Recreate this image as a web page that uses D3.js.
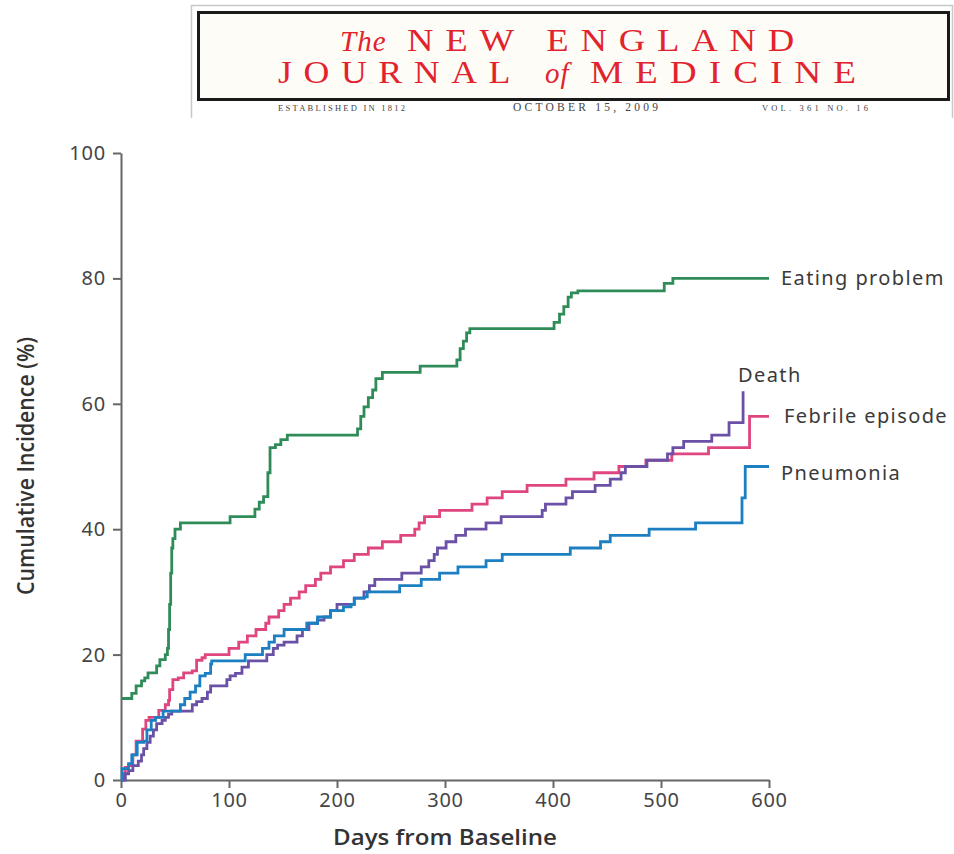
<!DOCTYPE html>
<meta charset="utf-8">
<style type="text/css">
body {
  margin: 0;
  background: #fff;
}
.axis text {
  font-family: "Noto Sans", sans-serif;
  font-size: 20px;
  fill: #444;
  letter-spacing: 0.8px;
}
.axis path,
.axis line {
  fill: none;
  stroke: #666;
  stroke-width: 2px;
}
.curve {
  fill: none;
  stroke-width: 2.8px;
}
.label {
  font-family: "Noto Sans", sans-serif;
  font-size: 20px;
  fill: #3a3a3a;
  letter-spacing: 1.4px;
}
.title {
  font-family: "Open Sans", sans-serif;
  font-weight: 600;
  font-size: 21px;
  fill: #333;
}
.mast {
  font-family: "Liberation Serif", serif;
  fill: #e2232e;
}
.sub {
  font-family: "Liberation Serif", serif;
  fill: #444;
}
</style>
<body>
<script src="https://cdn.jsdelivr.net/npm/d3@7"></script>
<script>
// step points: [day, cumulative incidence %]
var eating = [[0,13],[10,13.8],[14,15],[19,15.8],[22,16.3],[25,17.1],[33,18.2],[36,19.2],[41,20],[43,21],[44,24],[45,28],[46,33],[47,37],[48,38.5],[50,40],[55,41],[101,42],[124,43.2],[128,44.3],[132,45.2],[136,49],[138,53],[143,53.5],[148,54.3],[154,55],[219,56],[222,58],[225,59.5],[229,61],[233,62.2],[236,64],[242,65],[277,66],[311,67],[314,68.8],[317,70],[320,71.3],[323,72],[401,73],[406,74.3],[410,75.5],[414,77],[417,77.7],[423,78],[503,79.2],[511,80],[600,80]];

var febrile = [[0,0],[2,1],[4,2],[7,2.3],[11,4],[14,6.2],[20,8.1],[23,9.5],[26,10],[35,11.1],[41,12],[44,12.7],[45,14.4],[48,16],[53,16.3],[58,17.1],[66,17.4],[70,19.1],[75,19.5],[78,20],[100,21],[109,22],[117,23],[125,24],[134,25],[137,26],[146,27],[151,28],[157,29],[165,30],[171,31],[180,32],[185,33],[194,34],[206,35],[216,36],[229,37],[242,38],[259,39],[272,40],[276,41],[281,42],[295,43],[325,44],[339,45],[353,46],[376,47],[412,48],[438,49],[461,50],[486,51],[510,52],[544,53],[582,58],[600,58]];

var death = [[0,0],[4,1],[7,1.5],[11,2.3],[16,3],[19,4],[21,5],[24,6],[27,7],[30,8],[33,9],[38,9.5],[41,10],[44,10.5],[47,11],[66,12],[70,12.5],[75,13],[80,14],[83,15],[98,16],[101,16.6],[106,17],[112,18],[118,19],[135,20],[141,21],[145,21.5],[151,22],[163,23],[168,24],[174,25],[182,25.5],[188,26],[194,27],[200,28],[216,29],[225,30],[230,31],[235,32],[260,33],[278,34],[285,35],[290,36],[293,37],[301,38],[310,39],[319,40],[338,41],[352,42],[390,43],[393,44],[412,45],[418,46],[439,47],[453,48],[463,49],[467,50],[487,51],[506,52],[511,53],[521,54],[547,55],[563,57],[576,57],[576,62]];

var pneumonia = [[0,0],[1,1.8],[7,2.6],[10,4],[15,6],[21,6.2],[24,8],[28,9.5],[32,10],[39,11],[55,12],[59,13],[64,14],[69,15],[73,16.6],[78,17],[83,18.5],[84,19],[115,20],[131,21],[137,22],[142,23],[151,24],[172,25],[182,26],[194,27],[206,27.6],[213,28],[216,29],[225,29.2],[228,30],[258,31],[278,32],[295,33],[312,34],[338,35],[353,36],[416,37],[444,38],[453,39],[489,40],[532,41],[575,45],[578,50],[600,50]];

var series = [
  { name: "Eating problem", color: "#2f8c58", data: eating },
  { name: "Febrile episode", color: "#df4680", data: febrile },
  { name: "Death", color: "#6a51a6", data: death },
  { name: "Pneumonia", color: "#1b7fc2", data: pneumonia }
];

var labels = [
  { text: "Eating problem", x: 781, y: 285 },
  { text: "Death", x: 738, y: 382 },
  { text: "Febrile episode", x: 784, y: 423 },
  { text: "Pneumonia", x: 781, y: 480 }
];

var xTicks = [0, 100, 200, 300, 400, 500, 600];
var yTicks = [0, 20, 40, 60, 80, 100];

var W = 954, H = 854;

var svg = d3.select("body").append("svg")
    .attr("width", W)
    .attr("height", H);

/* Masthead */
var mast = svg.append("g");

mast.append("path")
    .attr("d", "M191.5,118 V5.5 H952.5 V118")
    .style("fill", "none")
    .style("stroke", "#c8c8c8")
    .style("stroke-width", 1.5);

mast.append("rect")
    .attr("x", 198.5).attr("y", 12.5)
    .attr("width", 750).attr("height", 87)
    .style("fill", "#fdfcf6")
    .style("stroke", "#1a1a1a")
    .style("stroke-width", 3);

// masthead words: [text, x, baseline, width, italic]
var mastWords = [
  ["The", 340, 51, 50, true],
  ["NEW ENGLAND", 407, 51, 399, false],
  ["JOURNAL", 278, 83, 244, false],
  ["of", 545, 83, 22, true],
  ["MEDICINE", 590, 83, 278, false]
];

mast.selectAll("text.mast")
    .data(mastWords)
  .enter().append("text")
    .attr("class", "mast")
    .attr("x", function(d) { return d[1]; })
    .attr("y", function(d) { return d[2]; })
    .attr("textLength", function(d) { return d[4] ? null : d[3]; })
    .attr("lengthAdjust", "spacingAndGlyphs")
    .style("font-style", function(d) { return d[4] ? "italic" : null; })
    .style("letter-spacing", function(d) { return d[4] ? "1px" : "10px"; })
    .style("font-size", function(d) { return d[4] ? "29px" : "31px"; })
    .text(function(d) { return d[0]; });

var subWords = [
  ["ESTABLISHED IN 1812", 278, 127, "8.5px"],
  ["OCTOBER 15, 2009", 513, 145, "11.5px"],
  ["VOL. 361    NO. 16", 762, 106, "8.5px"]
];

mast.selectAll("text.sub")
    .data(subWords)
  .enter().append("text")
    .attr("class", "sub")
    .attr("x", function(d) { return d[1]; })
    .attr("y", 111)
    .attr("textLength", function(d) { return d[2]; })
    .attr("lengthAdjust", "spacing")
    .style("font-size", function(d) { return d[3]; })
    .text(function(d) { return d[0]; });

/* Chart */
var x = d3.scaleLinear().domain([0, 600]).range([121, 769]);
var y = d3.scaleLinear().domain([0, 100]).range([780, 153]);

var line = d3.line()
    .x(function(d) { return x(d[0]); })
    .y(function(d) { return y(d[1]); })
    .curve(d3.curveStepAfter);

svg.append("g")
    .attr("class", "x axis")
    .attr("transform", "translate(0,780)")
    .call(d3.axisBottom(x).tickValues(xTicks).tickSize(8).tickSizeOuter(0).tickPadding(5));

svg.append("g")
    .attr("class", "y axis")
    .attr("transform", "translate(121,0)")
    .call(d3.axisLeft(y).tickValues(yTicks).tickSize(8).tickSizeOuter(0).tickPadding(7));

svg.selectAll("path.curve")
    .data(series)
  .enter().append("path")
    .attr("class", "curve")
    .style("stroke", function(d) { return d.color; })
    .attr("d", function(d) { return line(d.data); });

svg.selectAll("text.label")
    .data(labels)
  .enter().append("text")
    .attr("class", "label")
    .attr("x", function(d) { return d.x; })
    .attr("y", function(d) { return d.y; })
    .text(function(d) { return d.text; });

svg.append("text")
    .attr("class", "title")
    .attr("text-anchor", "middle")
    .attr("x", 445)
    .attr("y", 845)
    .attr("textLength", 224)
    .attr("lengthAdjust", "spacingAndGlyphs")
    .text("Days from Baseline");

svg.append("text")
    .attr("class", "title")
    .attr("text-anchor", "middle")
    .attr("transform", "translate(34,466) rotate(-90)")
    .attr("textLength", 258)
    .attr("lengthAdjust", "spacingAndGlyphs")
    .style("font-size", "23px")
    .text("Cumulative Incidence (%)");
</script>
</body>
